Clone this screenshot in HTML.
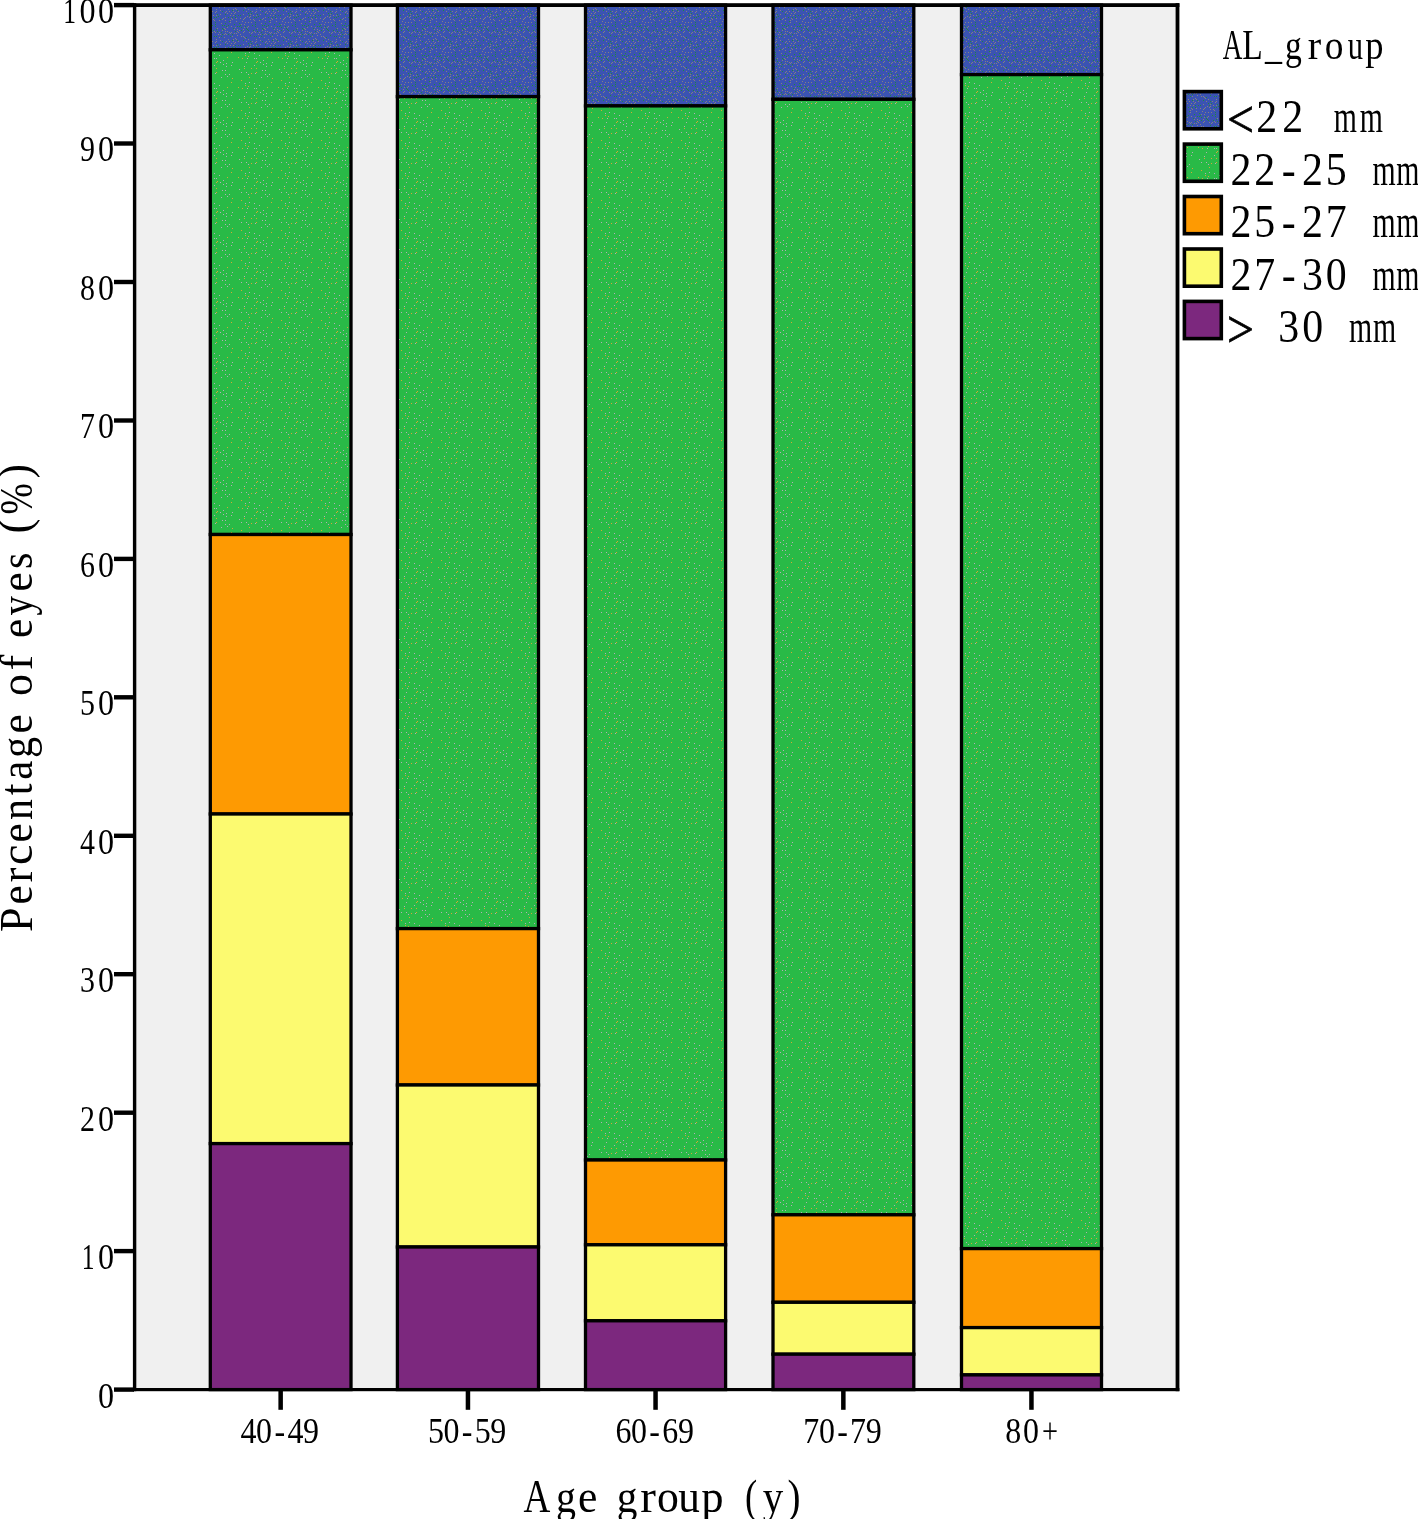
<!DOCTYPE html>
<html><head><meta charset="utf-8"><title>Chart</title>
<style>
html,body{margin:0;padding:0;background:#fff;}
body{width:1418px;height:1519px;overflow:hidden;}
svg{display:block;}
text{font-family:"Liberation Serif",serif;fill:#000;}
#txt{filter:grayscale(1);}
</style></head><body>
<svg width="1418" height="1519" viewBox="0 0 1418 1519">
<defs><pattern id="pb" width="40" height="30" patternUnits="userSpaceOnUse"><rect width="40" height="30" fill="#3B53B3"/><rect x="20" y="4" width="1" height="1" fill="#85827E"/><rect x="25" y="20" width="1" height="1" fill="#85827E"/><rect x="3" y="2" width="1" height="1" fill="#85827E"/><rect x="34" y="3" width="1" height="1" fill="#85827E"/><rect x="23" y="18" width="1" height="1" fill="#85827E"/><rect x="3" y="29" width="1" height="1" fill="#85827E"/><rect x="32" y="6" width="1" height="1" fill="#85827E"/><rect x="27" y="13" width="1" height="1" fill="#85827E"/><rect x="4" y="7" width="1" height="1" fill="#85827E"/><rect x="5" y="17" width="1" height="1" fill="#85827E"/><rect x="27" y="1" width="1" height="1" fill="#85827E"/><rect x="36" y="3" width="1" height="1" fill="#85827E"/><rect x="14" y="20" width="1" height="1" fill="#85827E"/><rect x="37" y="1" width="1" height="1" fill="#85827E"/><rect x="36" y="18" width="1" height="1" fill="#85827E"/><rect x="25" y="1" width="1" height="1" fill="#85827E"/><rect x="14" y="1" width="1" height="1" fill="#85827E"/><rect x="35" y="27" width="1" height="1" fill="#85827E"/><rect x="8" y="9" width="1" height="1" fill="#85827E"/><rect x="26" y="4" width="1" height="1" fill="#85827E"/><rect x="36" y="9" width="1" height="1" fill="#85827E"/><rect x="11" y="3" width="1" height="1" fill="#85827E"/><rect x="12" y="11" width="1" height="1" fill="#85827E"/><rect x="4" y="18" width="1" height="1" fill="#85827E"/><rect x="3" y="19" width="1" height="1" fill="#85827E"/><rect x="13" y="15" width="1" height="1" fill="#85827E"/><rect x="34" y="13" width="1" height="1" fill="#85827E"/><rect x="20" y="14" width="1" height="1" fill="#85827E"/><rect x="37" y="29" width="1" height="1" fill="#85827E"/><rect x="29" y="11" width="1" height="1" fill="#85827E"/><rect x="19" y="7" width="1" height="1" fill="#85827E"/><rect x="11" y="22" width="1" height="1" fill="#85827E"/><rect x="15" y="2" width="1" height="1" fill="#85827E"/><rect x="33" y="15" width="1" height="1" fill="#85827E"/><rect x="21" y="23" width="1" height="1" fill="#85827E"/><rect x="28" y="9" width="1" height="1" fill="#85827E"/><rect x="38" y="2" width="1" height="1" fill="#85827E"/><rect x="7" y="16" width="1" height="1" fill="#85827E"/><rect x="31" y="13" width="1" height="1" fill="#85827E"/><rect x="2" y="21" width="1" height="1" fill="#85827E"/><rect x="4" y="24" width="1" height="1" fill="#85827E"/><rect x="20" y="10" width="1" height="1" fill="#85827E"/><rect x="22" y="19" width="1" height="1" fill="#85827E"/><rect x="31" y="18" width="1" height="1" fill="#85827E"/><rect x="29" y="2" width="1" height="1" fill="#85827E"/><rect x="5" y="8" width="1" height="1" fill="#85827E"/><rect x="30" y="22" width="1" height="1" fill="#85827E"/><rect x="4" y="1" width="1" height="1" fill="#85827E"/><rect x="19" y="20" width="1" height="1" fill="#85827E"/><rect x="36" y="21" width="1" height="1" fill="#85827E"/><rect x="24" y="28" width="1" height="1" fill="#85827E"/><rect x="22" y="0" width="1" height="1" fill="#85827E"/><rect x="10" y="19" width="1" height="1" fill="#85827E"/><rect x="3" y="6" width="1" height="1" fill="#85827E"/><rect x="18" y="4" width="1" height="1" fill="#85827E"/><rect x="15" y="12" width="1" height="1" fill="#85827E"/><rect x="25" y="29" width="1" height="1" fill="#85827E"/><rect x="31" y="2" width="1" height="1" fill="#85827E"/><rect x="10" y="14" width="1" height="1" fill="#85827E"/><rect x="25" y="17" width="1" height="1" fill="#85827E"/><rect x="17" y="28" width="1" height="1" fill="#85827E"/><rect x="8" y="26" width="1" height="1" fill="#85827E"/><rect x="27" y="27" width="1" height="1" fill="#85827E"/><rect x="35" y="8" width="1" height="1" fill="#85827E"/><rect x="26" y="11" width="1" height="1" fill="#85827E"/><rect x="24" y="7" width="1" height="1" fill="#85827E"/><rect x="9" y="2" width="1" height="1" fill="#85827E"/><rect x="31" y="26" width="1" height="1" fill="#85827E"/><rect x="37" y="5" width="1" height="1" fill="#85827E"/><rect x="16" y="9" width="1" height="1" fill="#85827E"/><rect x="0" y="4" width="1" height="1" fill="#85827E"/><rect x="8" y="22" width="1" height="1" fill="#85827E"/><rect x="32" y="19" width="1" height="1" fill="#85827E"/><rect x="3" y="14" width="1" height="1" fill="#85827E"/><rect x="35" y="12" width="1" height="1" fill="#85827E"/><rect x="25" y="12" width="1" height="1" fill="#85827E"/><rect x="25" y="3" width="1" height="1" fill="#85827E"/><rect x="30" y="20" width="1" height="1" fill="#85827E"/><rect x="12" y="2" width="1" height="1" fill="#85827E"/><rect x="0" y="18" width="1" height="1" fill="#85827E"/><rect x="9" y="17" width="1" height="1" fill="#85827E"/><rect x="6" y="11" width="1" height="1" fill="#85827E"/><rect x="39" y="0" width="1" height="1" fill="#85827E"/><rect x="4" y="27" width="1" height="1" fill="#85827E"/><rect x="13" y="19" width="1" height="1" fill="#85827E"/><rect x="24" y="4" width="1" height="1" fill="#85827E"/><rect x="16" y="11" width="1" height="1" fill="#85827E"/><rect x="38" y="11" width="1" height="1" fill="#85827E"/><rect x="30" y="3" width="1" height="1" fill="#85827E"/><rect x="7" y="27" width="1" height="1" fill="#85827E"/><rect x="30" y="15" width="1" height="1" fill="#85827E"/><rect x="19" y="2" width="1" height="1" fill="#85827E"/><rect x="16" y="15" width="1" height="1" fill="#85827E"/><rect x="10" y="16" width="1" height="1" fill="#85827E"/><rect x="1" y="6" width="1" height="1" fill="#85827E"/><rect x="33" y="11" width="1" height="1" fill="#85827E"/><rect x="34" y="29" width="1" height="1" fill="#85827E"/><rect x="1" y="24" width="1" height="1" fill="#85827E"/><rect x="33" y="9" width="1" height="1" fill="#85827E"/><rect x="5" y="22" width="1" height="1" fill="#85827E"/><rect x="23" y="29" width="1" height="1" fill="#1E8A3C"/><rect x="10" y="11" width="1" height="1" fill="#1E8A3C"/><rect x="14" y="17" width="1" height="1" fill="#1E8A3C"/><rect x="34" y="24" width="1" height="1" fill="#1E8A3C"/><rect x="32" y="10" width="1" height="1" fill="#1E8A3C"/><rect x="12" y="25" width="1" height="1" fill="#1E8A3C"/><rect x="15" y="26" width="1" height="1" fill="#1E8A3C"/><rect x="25" y="23" width="1" height="1" fill="#1E8A3C"/><rect x="14" y="6" width="1" height="1" fill="#1E8A3C"/><rect x="1" y="0" width="1" height="1" fill="#1E8A3C"/><rect x="16" y="6" width="1" height="1" fill="#1E8A3C"/><rect x="28" y="25" width="1" height="1" fill="#1E8A3C"/><rect x="22" y="11" width="1" height="1" fill="#1E8A3C"/><rect x="6" y="7" width="1" height="1" fill="#1E8A3C"/><rect x="30" y="6" width="1" height="1" fill="#1E8A3C"/><rect x="21" y="6" width="1" height="1" fill="#1E8A3C"/><rect x="39" y="26" width="1" height="1" fill="#1E8A3C"/><rect x="0" y="15" width="1" height="1" fill="#1E8A3C"/><rect x="22" y="25" width="1" height="1" fill="#1E8A3C"/><rect x="5" y="26" width="1" height="1" fill="#1E8A3C"/><rect x="7" y="29" width="1" height="1" fill="#1E8A3C"/><rect x="24" y="25" width="1" height="1" fill="#1E8A3C"/><rect x="11" y="13" width="1" height="1" fill="#1E8A3C"/><rect x="21" y="2" width="1" height="1" fill="#1E8A3C"/><rect x="25" y="14" width="1" height="1" fill="#1E8A3C"/><rect x="10" y="5" width="1" height="1" fill="#1E8A3C"/><rect x="8" y="0" width="1" height="1" fill="#1E8A3C"/><rect x="38" y="15" width="1" height="1" fill="#1E8A3C"/><rect x="22" y="4" width="1" height="1" fill="#1E8A3C"/><rect x="35" y="17" width="1" height="1" fill="#1E8A3C"/><rect x="0" y="25" width="1" height="1" fill="#1E8A3C"/><rect x="8" y="13" width="1" height="1" fill="#1E8A3C"/><rect x="13" y="0" width="1" height="1" fill="#1E8A3C"/><rect x="18" y="16" width="1" height="1" fill="#1E8A3C"/><rect x="15" y="24" width="1" height="1" fill="#1E8A3C"/><rect x="37" y="10" width="1" height="1" fill="#1E8A3C"/><rect x="16" y="17" width="1" height="1" fill="#1E8A3C"/><rect x="26" y="26" width="1" height="1" fill="#1E8A3C"/><rect x="22" y="28" width="1" height="1" fill="#1E8A3C"/><rect x="29" y="21" width="1" height="1" fill="#1E8A3C"/><rect x="37" y="26" width="1" height="1" fill="#1E8A3C"/><rect x="32" y="4" width="1" height="1" fill="#1E8A3C"/><rect x="1" y="27" width="1" height="1" fill="#1E8A3C"/><rect x="9" y="15" width="1" height="1" fill="#1E8A3C"/><rect x="39" y="23" width="1" height="1" fill="#1E8A3C"/><rect x="3" y="10" width="1" height="1" fill="#1E8A3C"/><rect x="35" y="15" width="1" height="1" fill="#1E8A3C"/><rect x="6" y="28" width="1" height="1" fill="#1E8A3C"/><rect x="35" y="1" width="1" height="1" fill="#1E8A3C"/><rect x="17" y="1" width="1" height="1" fill="#1E8A3C"/><rect x="28" y="17" width="1" height="1" fill="#1E8A3C"/><rect x="20" y="19" width="1" height="1" fill="#1E8A3C"/><rect x="17" y="14" width="1" height="1" fill="#1E8A3C"/><rect x="32" y="17" width="1" height="1" fill="#1E8A3C"/><rect x="15" y="22" width="1" height="1" fill="#1E8A3C"/><rect x="33" y="28" width="1" height="1" fill="#1E8A3C"/><rect x="16" y="29" width="1" height="1" fill="#1E8A3C"/><rect x="28" y="4" width="1" height="1" fill="#1E8A3C"/></pattern><pattern id="pg" width="40" height="30" patternUnits="userSpaceOnUse"><rect width="40" height="30" fill="#29BA47"/><rect x="26" y="3" width="1" height="1" fill="#B4ACB8"/><rect x="25" y="14" width="1" height="1" fill="#B4ACB8"/><rect x="20" y="2" width="1" height="1" fill="#B4ACB8"/><rect x="15" y="13" width="1" height="1" fill="#B4ACB8"/><rect x="4" y="6" width="1" height="1" fill="#B4ACB8"/><rect x="19" y="25" width="1" height="1" fill="#B4ACB8"/><rect x="7" y="28" width="1" height="1" fill="#B4ACB8"/><rect x="9" y="22" width="1" height="1" fill="#B4ACB8"/><rect x="23" y="4" width="1" height="1" fill="#B4ACB8"/><rect x="16" y="28" width="1" height="1" fill="#B4ACB8"/><rect x="8" y="14" width="1" height="1" fill="#B4ACB8"/><rect x="14" y="23" width="1" height="1" fill="#B4ACB8"/><rect x="6" y="12" width="1" height="1" fill="#B4ACB8"/><rect x="31" y="5" width="1" height="1" fill="#B4ACB8"/><rect x="14" y="5" width="1" height="1" fill="#B4ACB8"/><rect x="27" y="16" width="1" height="1" fill="#B4ACB8"/><rect x="25" y="10" width="1" height="1" fill="#B4ACB8"/><rect x="26" y="6" width="1" height="1" fill="#B4ACB8"/><rect x="22" y="10" width="1" height="1" fill="#B4ACB8"/><rect x="5" y="23" width="1" height="1" fill="#B4ACB8"/><rect x="23" y="0" width="1" height="1" fill="#B4ACB8"/><rect x="21" y="17" width="1" height="1" fill="#B4ACB8"/><rect x="29" y="14" width="1" height="1" fill="#B4ACB8"/><rect x="1" y="12" width="1" height="1" fill="#B4ACB8"/><rect x="39" y="9" width="1" height="1" fill="#B4ACB8"/><rect x="32" y="2" width="1" height="1" fill="#B4ACB8"/><rect x="14" y="28" width="1" height="1" fill="#B4ACB8"/><rect x="6" y="2" width="1" height="1" fill="#B4ACB8"/><rect x="16" y="8" width="1" height="1" fill="#D2AA32"/><rect x="2" y="28" width="1" height="1" fill="#D2AA32"/><rect x="11" y="8" width="1" height="1" fill="#D2AA32"/><rect x="8" y="26" width="1" height="1" fill="#D2AA32"/><rect x="27" y="27" width="1" height="1" fill="#D2AA32"/><rect x="16" y="12" width="1" height="1" fill="#D2AA32"/><rect x="9" y="17" width="1" height="1" fill="#D2AA32"/><rect x="32" y="18" width="1" height="1" fill="#D2AA32"/><rect x="31" y="22" width="1" height="1" fill="#D2AA32"/><rect x="17" y="1" width="1" height="1" fill="#D2AA32"/><rect x="11" y="13" width="1" height="1" fill="#D2AA32"/><rect x="4" y="8" width="1" height="1" fill="#D2AA32"/><rect x="1" y="20" width="1" height="1" fill="#D2AA32"/><rect x="5" y="25" width="1" height="1" fill="#D2AA32"/><rect x="16" y="2" width="1" height="1" fill="#D2AA32"/><rect x="38" y="27" width="1" height="1" fill="#D2AA32"/></pattern></defs>
<rect x="0" y="0" width="1418" height="1519" fill="#fff"/>
<rect x="134.6" y="5.1" width="1042.9" height="1384.5" fill="#F0F0F0" stroke="none"/>
<rect x="210.3" y="5.1" width="140.7" height="44.7" fill="url(#pb)" stroke="#000" stroke-width="3.3"/>
<rect x="210.3" y="49.8" width="140.7" height="484.7" fill="url(#pg)" stroke="#000" stroke-width="3.3"/>
<rect x="210.3" y="534.5" width="140.7" height="279.5" fill="#FE9A02" stroke="#000" stroke-width="3.3"/>
<rect x="210.3" y="814.0" width="140.7" height="329.6" fill="#FCFA70" stroke="#000" stroke-width="3.3"/>
<rect x="210.3" y="1143.6" width="140.7" height="246.0" fill="#7C287E" stroke="#000" stroke-width="3.3"/>
<rect x="397.4" y="5.1" width="141.1" height="91.5" fill="url(#pb)" stroke="#000" stroke-width="3.3"/>
<rect x="397.4" y="96.6" width="141.1" height="832.0" fill="url(#pg)" stroke="#000" stroke-width="3.3"/>
<rect x="397.4" y="928.6" width="141.1" height="156.4" fill="#FE9A02" stroke="#000" stroke-width="3.3"/>
<rect x="397.4" y="1085.0" width="141.1" height="162.0" fill="#FCFA70" stroke="#000" stroke-width="3.3"/>
<rect x="397.4" y="1247.0" width="141.1" height="142.6" fill="#7C287E" stroke="#000" stroke-width="3.3"/>
<rect x="585.5" y="5.1" width="140.1" height="100.8" fill="url(#pb)" stroke="#000" stroke-width="3.3"/>
<rect x="585.5" y="105.9" width="140.1" height="1054.1" fill="url(#pg)" stroke="#000" stroke-width="3.3"/>
<rect x="585.5" y="1160.0" width="140.1" height="84.8" fill="#FE9A02" stroke="#000" stroke-width="3.3"/>
<rect x="585.5" y="1244.8" width="140.1" height="76.0" fill="#FCFA70" stroke="#000" stroke-width="3.3"/>
<rect x="585.5" y="1320.8" width="140.1" height="68.8" fill="#7C287E" stroke="#000" stroke-width="3.3"/>
<rect x="773.0" y="5.1" width="140.8" height="94.2" fill="url(#pb)" stroke="#000" stroke-width="3.3"/>
<rect x="773.0" y="99.3" width="140.8" height="1115.5" fill="url(#pg)" stroke="#000" stroke-width="3.3"/>
<rect x="773.0" y="1214.8" width="140.8" height="87.5" fill="#FE9A02" stroke="#000" stroke-width="3.3"/>
<rect x="773.0" y="1302.3" width="140.8" height="51.9" fill="#FCFA70" stroke="#000" stroke-width="3.3"/>
<rect x="773.0" y="1354.2" width="140.8" height="35.4" fill="#7C287E" stroke="#000" stroke-width="3.3"/>
<rect x="961.5" y="5.1" width="140.0" height="69.5" fill="url(#pb)" stroke="#000" stroke-width="3.3"/>
<rect x="961.5" y="74.6" width="140.0" height="1174.0" fill="url(#pg)" stroke="#000" stroke-width="3.3"/>
<rect x="961.5" y="1248.6" width="140.0" height="79.0" fill="#FE9A02" stroke="#000" stroke-width="3.3"/>
<rect x="961.5" y="1327.6" width="140.0" height="47.3" fill="#FCFA70" stroke="#000" stroke-width="3.3"/>
<rect x="961.5" y="1374.9" width="140.0" height="14.7" fill="#7C287E" stroke="#000" stroke-width="3.3"/>
<rect x="132.8" y="3.2" width="1046.6" height="3.8" fill="#000"/>
<rect x="132.8" y="1388.0" width="1046.6" height="3.2" fill="#000"/>
<rect x="132.9" y="3.2" width="3.4" height="1388.0" fill="#000"/>
<rect x="1175.6" y="3.2" width="3.8" height="1388.0" fill="#000"/>
<rect x="114" y="2.9" width="20" height="4.4" fill="#000"/>
<rect x="114" y="141.3" width="20" height="4.4" fill="#000"/>
<rect x="114" y="279.8" width="20" height="4.4" fill="#000"/>
<rect x="114" y="418.3" width="20" height="4.4" fill="#000"/>
<rect x="114" y="556.7" width="20" height="4.4" fill="#000"/>
<rect x="114" y="695.1" width="20" height="4.4" fill="#000"/>
<rect x="114" y="833.6" width="20" height="4.4" fill="#000"/>
<rect x="114" y="972.0" width="20" height="4.4" fill="#000"/>
<rect x="114" y="1110.5" width="20" height="4.4" fill="#000"/>
<rect x="114" y="1248.9" width="20" height="4.4" fill="#000"/>
<rect x="114" y="1387.4" width="20" height="4.4" fill="#000"/>
<rect x="278.4" y="1389.6" width="4.5" height="20.2" fill="#000"/>
<rect x="465.7" y="1389.6" width="4.5" height="20.2" fill="#000"/>
<rect x="653.3" y="1389.6" width="4.5" height="20.2" fill="#000"/>
<rect x="841.1" y="1389.6" width="4.5" height="20.2" fill="#000"/>
<rect x="1029.2" y="1389.6" width="4.5" height="20.2" fill="#000"/>
<rect x="1184.4" y="91.6" width="36.9" height="37.2" fill="url(#pb)" stroke="#000" stroke-width="3.6"/>
<rect x="1184.4" y="144.1" width="36.9" height="37.2" fill="url(#pg)" stroke="#000" stroke-width="3.6"/>
<rect x="1184.4" y="196.5" width="36.9" height="37.2" fill="#FE9A02" stroke="#000" stroke-width="3.6"/>
<rect x="1184.4" y="249.0" width="36.9" height="37.2" fill="#FCFA70" stroke="#000" stroke-width="3.6"/>
<rect x="1184.4" y="301.4" width="36.9" height="37.2" fill="#7C287E" stroke="#000" stroke-width="3.6"/>
<g id="txt">
<text transform="translate(69.7,23.0) scale(0.7,1)" font-size="36.5" text-anchor="middle">1</text>
<text transform="translate(87.6,23.0) scale(0.88,1)" font-size="36.5" text-anchor="middle">0</text>
<text transform="translate(106.0,23.0) scale(0.88,1)" font-size="36.5" text-anchor="middle">0</text>
<text transform="translate(87.6,161.4) scale(0.82,1)" font-size="36.5" text-anchor="middle">9</text>
<text transform="translate(106.0,161.4) scale(0.88,1)" font-size="36.5" text-anchor="middle">0</text>
<text transform="translate(87.6,299.9) scale(0.82,1)" font-size="36.5" text-anchor="middle">8</text>
<text transform="translate(106.0,299.9) scale(0.88,1)" font-size="36.5" text-anchor="middle">0</text>
<text transform="translate(87.6,438.4) scale(0.82,1)" font-size="36.5" text-anchor="middle">7</text>
<text transform="translate(106.0,438.4) scale(0.88,1)" font-size="36.5" text-anchor="middle">0</text>
<text transform="translate(87.6,576.8) scale(0.82,1)" font-size="36.5" text-anchor="middle">6</text>
<text transform="translate(106.0,576.8) scale(0.88,1)" font-size="36.5" text-anchor="middle">0</text>
<text transform="translate(87.6,715.2) scale(0.82,1)" font-size="36.5" text-anchor="middle">5</text>
<text transform="translate(106.0,715.2) scale(0.88,1)" font-size="36.5" text-anchor="middle">0</text>
<text transform="translate(87.6,853.7) scale(0.82,1)" font-size="36.5" text-anchor="middle">4</text>
<text transform="translate(106.0,853.7) scale(0.88,1)" font-size="36.5" text-anchor="middle">0</text>
<text transform="translate(87.6,992.1) scale(0.82,1)" font-size="36.5" text-anchor="middle">3</text>
<text transform="translate(106.0,992.1) scale(0.88,1)" font-size="36.5" text-anchor="middle">0</text>
<text transform="translate(87.6,1130.6) scale(0.82,1)" font-size="36.5" text-anchor="middle">2</text>
<text transform="translate(106.0,1130.6) scale(0.88,1)" font-size="36.5" text-anchor="middle">0</text>
<text transform="translate(88.1,1269.0) scale(0.7,1)" font-size="36.5" text-anchor="middle">1</text>
<text transform="translate(106.0,1269.0) scale(0.88,1)" font-size="36.5" text-anchor="middle">0</text>
<text transform="translate(106.0,1407.5) scale(0.88,1)" font-size="36.5" text-anchor="middle">0</text>
<text transform="translate(248.6,1443.2) scale(0.9,1)" font-size="35.5" text-anchor="middle">4</text>
<text transform="translate(264.1,1443.2) scale(0.9,1)" font-size="35.5" text-anchor="middle">0</text>
<text transform="translate(279.8,1443.2) scale(0.9,1)" font-size="35.5" text-anchor="middle">-</text>
<text transform="translate(295.4,1443.2) scale(0.9,1)" font-size="35.5" text-anchor="middle">4</text>
<text transform="translate(310.9,1443.2) scale(0.9,1)" font-size="35.5" text-anchor="middle">9</text>
<text transform="translate(435.9,1443.2) scale(0.9,1)" font-size="35.5" text-anchor="middle">5</text>
<text transform="translate(451.4,1443.2) scale(0.9,1)" font-size="35.5" text-anchor="middle">0</text>
<text transform="translate(467.1,1443.2) scale(0.9,1)" font-size="35.5" text-anchor="middle">-</text>
<text transform="translate(482.7,1443.2) scale(0.9,1)" font-size="35.5" text-anchor="middle">5</text>
<text transform="translate(498.2,1443.2) scale(0.9,1)" font-size="35.5" text-anchor="middle">9</text>
<text transform="translate(623.4,1443.2) scale(0.9,1)" font-size="35.5" text-anchor="middle">6</text>
<text transform="translate(639.0,1443.2) scale(0.9,1)" font-size="35.5" text-anchor="middle">0</text>
<text transform="translate(654.6,1443.2) scale(0.9,1)" font-size="35.5" text-anchor="middle">-</text>
<text transform="translate(670.2,1443.2) scale(0.9,1)" font-size="35.5" text-anchor="middle">6</text>
<text transform="translate(685.9,1443.2) scale(0.9,1)" font-size="35.5" text-anchor="middle">9</text>
<text transform="translate(811.3,1443.2) scale(0.9,1)" font-size="35.5" text-anchor="middle">7</text>
<text transform="translate(826.9,1443.2) scale(0.9,1)" font-size="35.5" text-anchor="middle">0</text>
<text transform="translate(842.5,1443.2) scale(0.9,1)" font-size="35.5" text-anchor="middle">-</text>
<text transform="translate(858.1,1443.2) scale(0.9,1)" font-size="35.5" text-anchor="middle">7</text>
<text transform="translate(873.7,1443.2) scale(0.9,1)" font-size="35.5" text-anchor="middle">9</text>
<text transform="translate(1013.3,1443.2) scale(0.9,1)" font-size="35.5" text-anchor="middle">8</text>
<text transform="translate(1031.0,1443.2) scale(0.9,1)" font-size="35.5" text-anchor="middle">0</text>
<text transform="translate(1050.0,1443.2) scale(0.8,1)" font-size="35.5" text-anchor="middle">+</text>
<text transform="translate(537.0,1512.0) scale(0.79,1)" font-size="47" text-anchor="middle">A</text>
<text transform="translate(566.0,1512.0) scale(0.85,1)" font-size="47" text-anchor="middle">g</text>
<text transform="translate(587.7,1512.0) scale(0.93,1)" font-size="47" text-anchor="middle">e</text>
<text transform="translate(627.0,1512.0) scale(0.88,1)" font-size="47" text-anchor="middle">g</text>
<text transform="translate(648.0,1512.0) scale(1.0,1)" font-size="47" text-anchor="middle">r</text>
<text transform="translate(668.0,1512.0) scale(0.93,1)" font-size="47" text-anchor="middle">o</text>
<text transform="translate(689.0,1512.0) scale(0.92,1)" font-size="47" text-anchor="middle">u</text>
<text transform="translate(712.5,1512.0) scale(0.95,1)" font-size="47" text-anchor="middle">p</text>
<text transform="translate(751.0,1512.0) scale(0.78,1)" font-size="47" text-anchor="middle">(</text>
<text transform="translate(773.0,1512.0) scale(0.87,1)" font-size="47" text-anchor="middle">y</text>
<text transform="translate(794.0,1512.0) scale(0.83,1)" font-size="47" text-anchor="middle">)</text>
<text transform="translate(32.0,919.6) rotate(-90) scale(0.94,1)" font-size="47" text-anchor="middle">P</text>
<text transform="translate(32.0,895.0) rotate(-90) scale(0.92,1)" font-size="47" text-anchor="middle">e</text>
<text transform="translate(32.0,875.0) rotate(-90) scale(0.95,1)" font-size="47" text-anchor="middle">r</text>
<text transform="translate(32.0,854.8) rotate(-90) scale(0.98,1)" font-size="47" text-anchor="middle">c</text>
<text transform="translate(32.0,832.8) rotate(-90) scale(0.92,1)" font-size="47" text-anchor="middle">e</text>
<text transform="translate(32.0,809.5) rotate(-90) scale(0.89,1)" font-size="47" text-anchor="middle">n</text>
<text transform="translate(32.0,789.4) rotate(-90) scale(0.9,1)" font-size="47" text-anchor="middle">t</text>
<text transform="translate(32.0,770.1) rotate(-90) scale(0.92,1)" font-size="47" text-anchor="middle">a</text>
<text transform="translate(32.0,747.5) rotate(-90) scale(0.9,1)" font-size="47" text-anchor="middle">g</text>
<text transform="translate(32.0,724.0) rotate(-90) scale(0.92,1)" font-size="47" text-anchor="middle">e</text>
<text transform="translate(32.0,685.1) rotate(-90) scale(0.93,1)" font-size="47" text-anchor="middle">o</text>
<text transform="translate(32.0,662.6) rotate(-90) scale(1.0,1)" font-size="47" text-anchor="middle">f</text>
<text transform="translate(32.0,628.5) rotate(-90) scale(0.92,1)" font-size="47" text-anchor="middle">e</text>
<text transform="translate(32.0,605.7) rotate(-90) scale(0.83,1)" font-size="47" text-anchor="middle">y</text>
<text transform="translate(32.0,581.9) rotate(-90) scale(0.92,1)" font-size="47" text-anchor="middle">e</text>
<text transform="translate(32.0,560.7) rotate(-90) scale(0.9,1)" font-size="47" text-anchor="middle">s</text>
<text transform="translate(29.5,526.0) rotate(-90) scale(0.95,1)" font-size="47" text-anchor="middle">(</text>
<text transform="translate(32.0,498.8) rotate(-90) scale(0.8,1)" font-size="47" text-anchor="middle">%</text>
<text transform="translate(29.5,471.4) rotate(-90) scale(0.92,1)" font-size="47" text-anchor="middle">)</text>
<text transform="translate(1232.5,59.0) scale(0.64,1)" font-size="42.5" text-anchor="middle">A</text>
<text transform="translate(1252.6,59.0) scale(0.79,1)" font-size="42.5" text-anchor="middle">L</text>
<text transform="translate(1273.4,59.0) scale(0.8,1)" font-size="42.5" text-anchor="middle">_</text>
<text transform="translate(1293.4,59.0) scale(0.79,1)" font-size="42.5" text-anchor="middle">g</text>
<text transform="translate(1314.5,59.0) scale(0.95,1)" font-size="42.5" text-anchor="middle">r</text>
<text transform="translate(1334.0,59.0) scale(0.88,1)" font-size="42.5" text-anchor="middle">o</text>
<text transform="translate(1355.4,59.0) scale(0.72,1)" font-size="42.5" text-anchor="middle">u</text>
<text transform="translate(1374.5,59.0) scale(0.86,1)" font-size="42.5" text-anchor="middle">p</text>
<text transform="translate(1240.4,137.2) scale(0.92,1)" font-size="52" text-anchor="middle" stroke="#000" stroke-width="0.7">&lt;</text>
<text transform="translate(1266.6,132.4) scale(0.9,1)" font-size="46.5" text-anchor="middle">2</text>
<text transform="translate(1292.8,132.4) scale(0.9,1)" font-size="46.5" text-anchor="middle">2</text>
<text transform="translate(1345.2,132.4) scale(0.64,1)" font-size="46.5" text-anchor="middle">m</text>
<text transform="translate(1371.4,132.4) scale(0.64,1)" font-size="46.5" text-anchor="middle">m</text>
<text transform="translate(1240.9,184.8) scale(0.9,1)" font-size="46.5" text-anchor="middle">2</text>
<text transform="translate(1264.8,184.8) scale(0.9,1)" font-size="46.5" text-anchor="middle">2</text>
<text transform="translate(1288.6,184.8) scale(0.9,1)" font-size="46.5" text-anchor="middle">-</text>
<text transform="translate(1312.5,184.8) scale(0.9,1)" font-size="46.5" text-anchor="middle">2</text>
<text transform="translate(1336.3,184.8) scale(0.9,1)" font-size="46.5" text-anchor="middle">5</text>
<text transform="translate(1384.0,184.8) scale(0.64,1)" font-size="46.5" text-anchor="middle">m</text>
<text transform="translate(1407.9,184.8) scale(0.64,1)" font-size="46.5" text-anchor="middle">m</text>
<text transform="translate(1240.9,237.1) scale(0.9,1)" font-size="46.5" text-anchor="middle">2</text>
<text transform="translate(1264.8,237.1) scale(0.9,1)" font-size="46.5" text-anchor="middle">5</text>
<text transform="translate(1288.6,237.1) scale(0.9,1)" font-size="46.5" text-anchor="middle">-</text>
<text transform="translate(1312.5,237.1) scale(0.9,1)" font-size="46.5" text-anchor="middle">2</text>
<text transform="translate(1336.3,237.1) scale(0.9,1)" font-size="46.5" text-anchor="middle">7</text>
<text transform="translate(1384.0,237.1) scale(0.64,1)" font-size="46.5" text-anchor="middle">m</text>
<text transform="translate(1407.9,237.1) scale(0.64,1)" font-size="46.5" text-anchor="middle">m</text>
<text transform="translate(1240.9,289.5) scale(0.9,1)" font-size="46.5" text-anchor="middle">2</text>
<text transform="translate(1264.8,289.5) scale(0.9,1)" font-size="46.5" text-anchor="middle">7</text>
<text transform="translate(1288.6,289.5) scale(0.9,1)" font-size="46.5" text-anchor="middle">-</text>
<text transform="translate(1312.5,289.5) scale(0.9,1)" font-size="46.5" text-anchor="middle">3</text>
<text transform="translate(1336.3,289.5) scale(0.9,1)" font-size="46.5" text-anchor="middle">0</text>
<text transform="translate(1384.0,289.5) scale(0.64,1)" font-size="46.5" text-anchor="middle">m</text>
<text transform="translate(1407.9,289.5) scale(0.64,1)" font-size="46.5" text-anchor="middle">m</text>
<text transform="translate(1240.6,346.6) scale(0.92,1)" font-size="52" text-anchor="middle" stroke="#000" stroke-width="0.7">&gt;</text>
<text transform="translate(1288.6,341.8) scale(0.9,1)" font-size="46.5" text-anchor="middle">3</text>
<text transform="translate(1312.6,341.8) scale(0.9,1)" font-size="46.5" text-anchor="middle">0</text>
<text transform="translate(1360.6,341.8) scale(0.64,1)" font-size="46.5" text-anchor="middle">m</text>
<text transform="translate(1384.6,341.8) scale(0.64,1)" font-size="46.5" text-anchor="middle">m</text>
</g>
</svg>
</body></html>
